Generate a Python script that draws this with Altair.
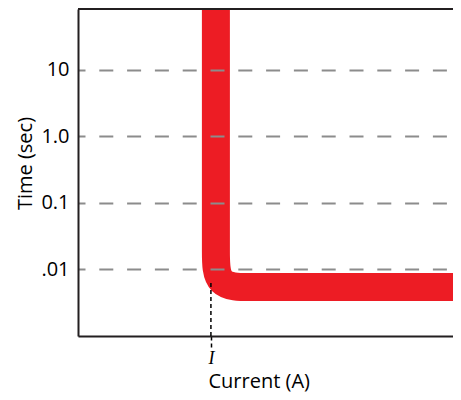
import altair as alt
import pandas as pd

# Time-current curve (control points of the thick red curve)
curve_current = [36.0, 36.0, 36.0, 36.0, 45.4, 54.8, 100.0]
curve_time = [83.0, 0.0652, 0.0187, 0.00535, 0.00535, 0.00535, 0.00535]

# Pickup current marker "I"
i_current = [34.7]
i_time_top = [0.00615]
i_time_bottom = [0.00098]
x_tick_values = [34.7]
x_tick_labels = ["I"]

# Axes
y_domain = [0.00098, 83.0]
y_tick_values = [10, 1, 0.1, 0.01]
y_tick_labels = ["10", "1.0", "0.1", ".01"]
x_domain = [0, 97.9]

RED = "#ED1C24"
INK = "#231F20"

curve_df = pd.DataFrame({"current": curve_current, "time": curve_time,
                         "order": list(range(len(curve_current)))})
i_df = pd.DataFrame({"current": i_current, "time": i_time_top, "time_end": i_time_bottom})
top_df = pd.DataFrame({"time": [y_domain[1]]})

y_label_expr = " : ".join(
    f"datum.value == {v} ? '{t}'" for v, t in zip(y_tick_values, y_tick_labels)
) + " : ''"
x_label_expr = " : ".join(
    f"datum.value == {v} ? '{t}'" for v, t in zip(x_tick_values, x_tick_labels)
) + " : ''"

x_axis = alt.Axis(
    values=x_tick_values, labelExpr=x_label_expr,
    labelFont="Liberation Serif", labelFontStyle="italic", labelFontSize=18,
    labelColor="black", labelPadding=1,
    ticks=True, tickSize=12, tickDash=[4, 3], tickColor="black", tickWidth=1.5,
    domainColor=INK, domainWidth=2, grid=False,
    title="Current (A)", titleX=130, titleY=51, titleAlign="left",
    titleBaseline="alphabetic", titleFont="Open Sans", titleFontSize=20,
    titleFontWeight="normal", titleColor="black",
)
y_axis = alt.Axis(
    values=y_tick_values, labelExpr=y_label_expr,
    labelFont="Open Sans", labelFontSize=20, labelColor="black",
    labelPadding=9, ticks=False, tickSize=0,
    domainColor=INK, domainWidth=2,
    grid=True, gridColor="#8c8c8c", gridWidth=1.8, gridDash=[14, 13.8],
    gridDashOffset=7,
    title="Time (sec)", titleX=-53, titleY=154, titleAngle=270,
    titleAlign="center", titleBaseline="middle", titleFont="Open Sans",
    titleFontSize=20, titleFontWeight="normal", titleColor="black",
    zindex=1,
)

x_enc = alt.X("current:Q", scale=alt.Scale(domain=x_domain, nice=False, zero=False), axis=x_axis)
y_enc = alt.Y("time:Q", scale=alt.Scale(type="log", domain=y_domain, nice=False), axis=y_axis)

curve = alt.Chart(curve_df).mark_line(
    interpolate="basis", color=RED, strokeWidth=28, strokeCap="butt", clip=True
).encode(x=x_enc, y=y_enc, order="order:Q")

i_rule = alt.Chart(i_df).mark_rule(
    color="black", strokeWidth=1.5, strokeDash=[4, 3]
).encode(x=x_enc, y=y_enc, y2="time_end:Q")

top_rule = alt.Chart(top_df).mark_rule(color=INK, strokeWidth=2).encode(y=y_enc)

chart = alt.layer(curve, i_rule, top_rule).properties(
    width=375, height=327,
    autosize=alt.AutoSizeParams(type="none"),
    padding={"left": 70, "top": 1, "right": 0, "bottom": 56},
).configure_view(stroke=None).configure(font="Open Sans")

chart.save("out.html", embed_options={"renderer": "svg", "actions": False})
